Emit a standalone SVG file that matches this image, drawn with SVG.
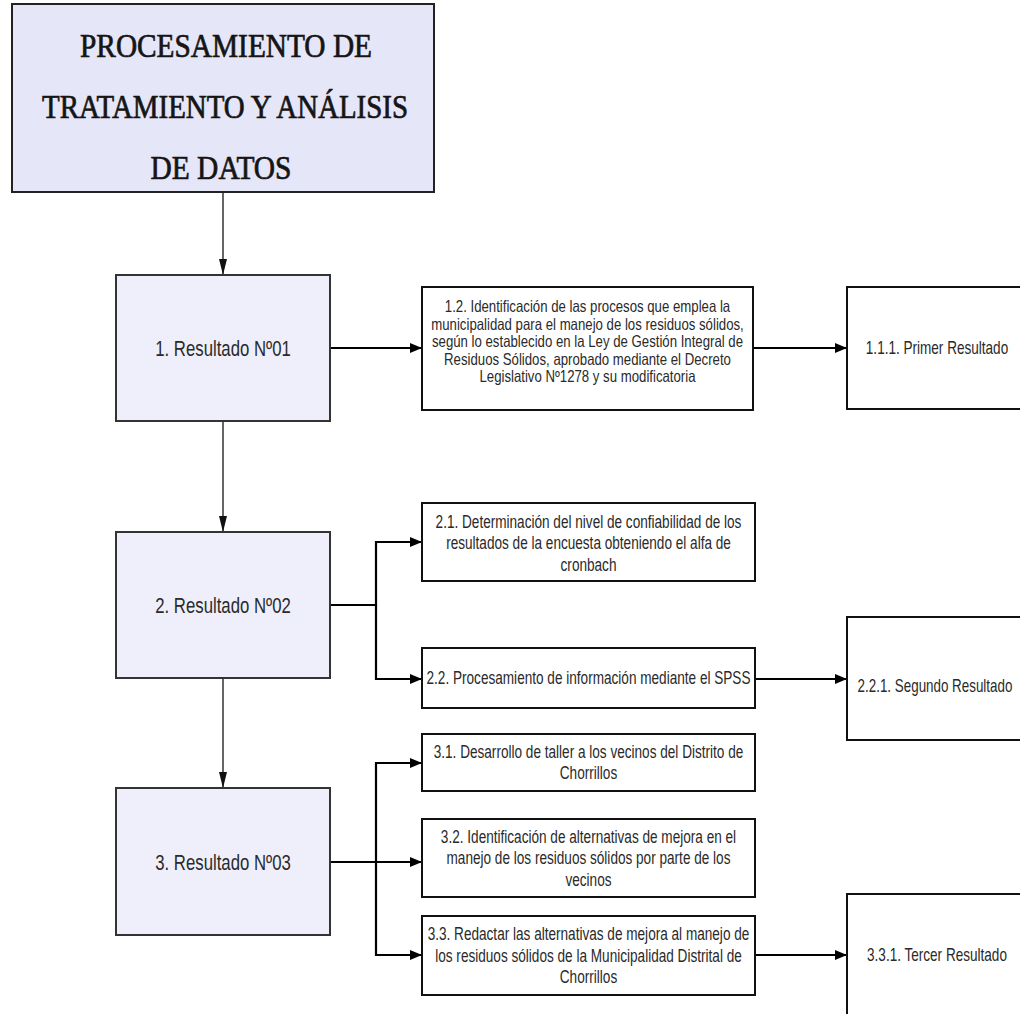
<svg xmlns="http://www.w3.org/2000/svg" width="1020" height="1014" viewBox="0 0 1020 1014">
<defs>
<marker id="ah" viewBox="0 0 12 10" refX="12" refY="5" markerWidth="12" markerHeight="10" markerUnits="userSpaceOnUse" orient="auto">
<path d="M0,0 L12,5 L0,10 Z" fill="#000"/>
</marker>
<marker id="av" viewBox="0 0 16 8" refX="16" refY="4" markerWidth="16" markerHeight="8" markerUnits="userSpaceOnUse" orient="auto">
<path d="M0,0 L16,4 L0,8 Z" fill="#111"/>
</marker>
</defs>
<style>
.title{font-family:"Liberation Serif","Times New Roman",serif;font-size:33px;fill:#151515;stroke:#151515;stroke-width:0.7;text-anchor:middle}
.lav{fill:#e6e6f9;stroke:#222;stroke-width:2}
.node{fill:#efeffc;stroke:#333;stroke-width:2}
.box{fill:#fff;stroke:#111;stroke-width:2}
.lbl{font-family:"Liberation Sans",Arial,sans-serif;fill:#2a2a2a;text-anchor:middle}
.nl{font-size:22.5px}
.s16{font-size:16.5px}
.s18{font-size:18.5px}
.s17{font-size:17.5px}
.main{fill:none;stroke:#333;stroke-width:1.5;marker-end:url(#av)}
.side{fill:none;stroke:#000;stroke-width:2.2;marker-end:url(#ah)}
</style>
<rect width="1020" height="1014" fill="#fff"/>

<g id="connectors">
<path class="main" d="M223,192 V275"/>
<path class="main" d="M223,421 V532"/>
<path class="main" d="M223,678 V788"/>
<path class="side" d="M330,348 H422"/>
<path class="side" d="M753,348 H847"/>
<path class="side" d="M330,605 H376 V542 H422"/>
<path class="side" d="M376,605 V679 H422"/>
<path class="side" d="M755,679 H847"/>
<path class="side" d="M330,862 H422"/>
<path class="side" d="M376,862 V763 H422"/>
<path class="side" d="M376,862 V955 H422"/>
<path class="side" d="M755,955 H847"/>
</g>

<g id="title">
<rect class="lav" x="12" y="4" width="422" height="188"/>
<text class="title" x="226" y="57" textLength="292" lengthAdjust="spacingAndGlyphs">PROCESAMIENTO DE</text>
<text class="title" x="225" y="118" textLength="366" lengthAdjust="spacingAndGlyphs">TRATAMIENTO Y ANÁLISIS</text>
<text class="title" x="221" y="179" textLength="141" lengthAdjust="spacingAndGlyphs">DE DATOS</text>
</g>

<g id="n1">
<rect class="node" x="116" y="275" width="214" height="146"/>
<g transform="translate(223,0) scale(0.745,1)"><text class="lbl nl" x="0" y="356">1. Resultado Nº01</text></g>
</g>
<g id="n2">
<rect class="node" x="116" y="532" width="214" height="146"/>
<g transform="translate(223,0) scale(0.745,1)"><text class="lbl nl" x="0" y="613">2. Resultado Nº02</text></g>
</g>
<g id="n3">
<rect class="node" x="116" y="788" width="214" height="147"/>
<g transform="translate(223,0) scale(0.745,1)"><text class="lbl nl" x="0" y="870">3. Resultado Nº03</text></g>
</g>

<g id="b12">
<rect class="box" x="422" y="287" width="331" height="123"/>
<g transform="translate(587.5,0) scale(0.8,1)">
<text class="lbl s16" x="0" y="312">1.2. Identificación de las procesos  que emplea la</text>
<text class="lbl s16" x="0" y="330">municipalidad para el manejo de los residuos sólidos,</text>
<text class="lbl s16" x="0" y="347.5">según lo establecido en la Ley de Gestión Integral de</text>
<text class="lbl s16" x="0" y="365">Residuos Sólidos, aprobado mediante el Decreto</text>
<text class="lbl s16" x="0" y="382.5">Legislativo Nº1278 y su modificatoria</text>
</g>
</g>
<g id="b111">
<rect class="box" x="847" y="287" width="200" height="122"/>
<g transform="translate(937,0) scale(0.775,1)"><text class="lbl s17" x="0" y="354">1.1.1. Primer Resultado</text></g>
</g>

<g id="b21">
<rect class="box" x="422" y="503" width="333" height="78"/>
<g transform="translate(588.5,0) scale(0.735,1)">
<text class="lbl s18" x="0" y="528">2.1. Determinación del nivel de confiabilidad de los</text>
<text class="lbl s18" x="0" y="549.5">resultados de la encuesta obteniendo el alfa de</text>
<text class="lbl s18" x="0" y="571">cronbach</text>
</g>
</g>
<g id="b22">
<rect class="box" x="422" y="648" width="333" height="60"/>
<g transform="translate(588.5,0) scale(0.735,1)"><text class="lbl s18" x="0" y="684">2.2. Procesamiento de información mediante el SPSS</text></g>
</g>
<g id="b221">
<rect class="box" x="847" y="617" width="200" height="123"/>
<g transform="translate(935,0) scale(0.765,1)"><text class="lbl s17" x="0" y="692">2.2.1. Segundo Resultado</text></g>
</g>

<g id="b31">
<rect class="box" x="422" y="734" width="333" height="57"/>
<g transform="translate(588.5,0) scale(0.735,1)">
<text class="lbl s18" x="0" y="758">3.1. Desarrollo de taller a los vecinos del Distrito de</text>
<text class="lbl s18" x="0" y="779.5">Chorrillos</text>
</g>
</g>
<g id="b32">
<rect class="box" x="422" y="819" width="333" height="78"/>
<g transform="translate(588.5,0) scale(0.735,1)">
<text class="lbl s18" x="0" y="843">3.2. Identificación de alternativas de mejora en el</text>
<text class="lbl s18" x="0" y="864.5">manejo de los residuos sólidos por parte de los</text>
<text class="lbl s18" x="0" y="886">vecinos</text>
</g>
</g>
<g id="b33">
<rect class="box" x="422" y="916" width="333" height="79"/>
<g transform="translate(588.5,0) scale(0.735,1)">
<text class="lbl s18" x="0" y="940.5">3.3. Redactar las alternativas de mejora al manejo de</text>
<text class="lbl s18" x="0" y="962">los residuos sólidos de la Municipalidad Distrital de</text>
<text class="lbl s18" x="0" y="983.5">Chorrillos</text>
</g>
</g>
<g id="b331">
<rect class="box" x="847" y="894" width="200" height="140"/>
<g transform="translate(937,0) scale(0.775,1)"><text class="lbl s17" x="0" y="961">3.3.1. Tercer Resultado</text></g>
</g>
</svg>
